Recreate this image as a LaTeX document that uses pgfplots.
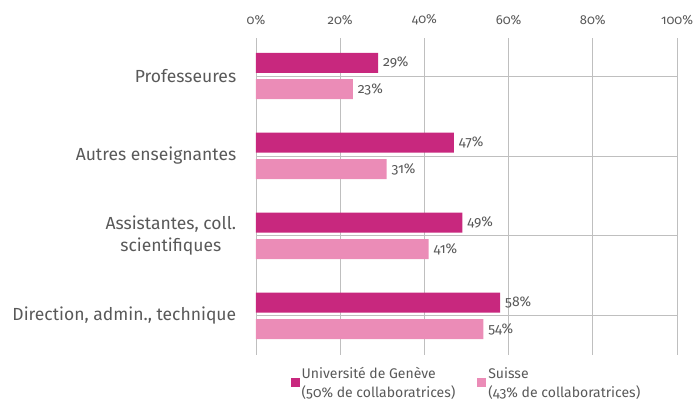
\documentclass[border=0pt]{standalone}
\usepackage{fontspec}
\setmainfont{Fira Sans}[Numbers=OldStyle]
\usepackage{pgfplots}
\pgfplotsset{compat=1.18}
\definecolor{unige}{RGB}{200,40,126}
\definecolor{suisse}{RGB}{235,140,183}
\definecolor{txt}{RGB}{89,89,89}
\definecolor{grid}{RGB}{217,217,217}
\begin{document}
\begin{tikzpicture}
\path[use as bounding box] (-256pt,-45pt) rectangle (438pt,355pt);
\begin{axis}[
  at={(0pt,0pt)}, anchor=south west,
  width=421pt, height=317pt, scale only axis,
  xbar, bar width=0.25,
  xmin=0, xmax=100,
  ymin=-0.475, ymax=3.49, y dir=reverse,
  axis line style={draw=none},
  xtick={0,20,40,60,80,100},
  xticklabel pos=upper,
  xmajorgrids, major grid style={grid, line width=0.8pt},
  tick style={draw=none},
  /pgf/number format/assume math mode=true,
  xticklabel={\pgfmathprintnumber{\tick}\%},
  xticklabel style={font=\fontsize{13}{15}\selectfont, text=txt, yshift=10pt},
  ytick={0,1,2,3},
  yticklabels={Professeures, Autres enseignantes, {Assistantes, coll.\\scientifiques}, {Direction, admin., technique}},
  yticklabel style={font=\fontsize{17.5}{22}\selectfont, text=txt, align=center, xshift=-12pt},
  nodes near coords={\pgfmathprintnumber{\pgfplotspointmeta}\%},
  point meta=x,
  nodes near coords style={font=\fontsize{14}{16}\selectfont, text=txt, xshift=1.5pt},
  legend columns=2,
  legend style={at={(0.5,-0.025)}, anchor=north, draw=none, fill=none,
    font=\fontsize{14}{19}\selectfont, text=txt,
    cells={align=left, anchor=west},
    /tikz/every even column/.append style={column sep=20pt}},
  legend image code/.code={\fill[#1] (0pt,-4.5pt) rectangle (9pt,4.5pt);},
]
\addplot[bar shift=-0.165, fill=unige, draw=none] coordinates {(29,0) (47,1) (49,2) (58,3)};
\addlegendentry{Université de Genève\\(50\% de collaboratrices)}
\addplot[bar shift=0.165, fill=suisse, draw=none] coordinates {(23,0) (31,1) (41,2) (54,3)};
\addlegendentry{Suisse\\(43\% de collaboratrices)}
\end{axis}
\end{tikzpicture}
\end{document}
